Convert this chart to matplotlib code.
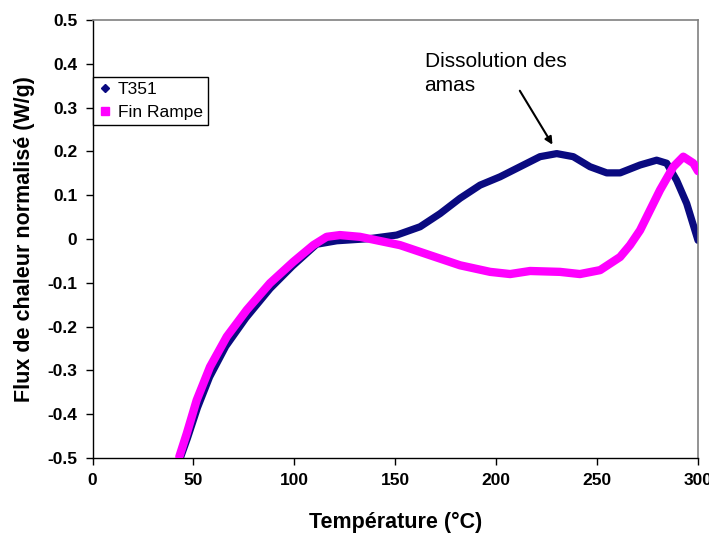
import matplotlib
matplotlib.use('Agg')
import matplotlib.pyplot as plt
from matplotlib.lines import Line2D

plt.rcParams['font.family'] = ['Liberation Sans', 'DejaVu Sans']

# T351 (navy)
t351_x = [43.5, 47, 52, 58, 66, 76, 88, 99, 111, 121, 137.5, 150.7, 162.3, 172.2,
          182.1, 192, 201.9, 211.8, 221.7, 230, 238.2, 246.5, 254.8, 261.4, 271.3,
          279.5, 284.5, 289.4, 294.4, 300]
t351_y = [-0.5, -0.455, -0.385, -0.315, -0.245, -0.18, -0.113, -0.062, -0.012, -0.004,
          0.001, 0.009, 0.028, 0.058, 0.093, 0.123, 0.142, 0.165, 0.188, 0.195, 0.188,
          0.165, 0.151, 0.151, 0.169, 0.180, 0.173, 0.134, 0.081, -0.003]

# Fin Rampe (magenta)
fin_x = [43, 46.7, 51.6, 58.2, 66.5, 76.4, 87.9, 99.5, 109.4, 116, 122.6, 132.5, 144,
         152.4, 167.2, 182.1, 197, 206.9, 216.8, 231.6, 241.5, 251.5, 261.4, 266.3,
         271.3, 281.2, 287.8, 292.7, 297.7, 300]
fin_y = [-0.497, -0.444, -0.368, -0.292, -0.223, -0.162, -0.101, -0.052, -0.014, 0.005,
         0.009, 0.005, -0.006, -0.014, -0.037, -0.060, -0.075, -0.080, -0.073, -0.075,
         -0.080, -0.071, -0.041, -0.014, 0.020, 0.112, 0.165, 0.188, 0.173, 0.155]

xticks = [0, 50, 100, 150, 200, 250, 300]
yticks = [-0.5, -0.4, -0.3, -0.2, -0.1, 0, 0.1, 0.2, 0.3, 0.4, 0.5]
ytick_labels = ['-0.5', '-0.4', '-0.3', '-0.2', '-0.1', '0', '0.1', '0.2', '0.3', '0.4', '0.5']

navy = '#0a0a80'
pink = '#ff00ff'

fig = plt.figure(figsize=(7.09, 5.34), dpi=100)
ax = fig.add_axes([0.1305, 0.1423, 0.854, 0.8202])

ax.plot(t351_x, t351_y, color=navy, lw=5.2, solid_capstyle='round', zorder=2)
ax.plot(fin_x, fin_y, color=pink, lw=6, solid_capstyle='round', zorder=3)

ax.set_xlim(0, 300)
ax.set_ylim(-0.5, 0.5)
ax.set_xticks(xticks)
ax.set_yticks(yticks)
ax.set_yticklabels(ytick_labels)
ax.tick_params(direction='out', length=5, width=1, labelsize=12.5, pad=6)
for lab in ax.get_xticklabels() + ax.get_yticklabels():
    lab.set_fontweight('bold')

for s in ['left', 'bottom']:
    ax.spines[s].set_color('black')
    ax.spines[s].set_linewidth(1)
for s in ['top', 'right']:
    ax.spines[s].set_color('#808080')
    ax.spines[s].set_linewidth(1.2)

ax.set_xlabel('Température (°C)', fontsize=15.5, fontweight='bold', labelpad=17)
ax.set_ylabel('Flux de chaleur normalisé (W/g)', fontsize=15.5, fontweight='bold', labelpad=9)

ax.annotate('', xy=(228.6, 0.21), xytext=(211, 0.344),
            arrowprops=dict(arrowstyle='-|>', color='black', lw=1.5, mutation_scale=11))
ax.text(164.5, 0.428, 'Dissolution des\namas', fontsize=15, ha='left', va='top',
        linespacing=1.35)

handles = [Line2D([], [], ls='none', marker='D', ms=4.5, color=navy),
           Line2D([], [], ls='none', marker='s', ms=6, color=pink)]
leg = ax.legend(handles, ['T351', 'Fin Rampe'], loc='upper left',
                bbox_to_anchor=(0.0, 0.8705), borderaxespad=0, fontsize=12.5,
                handlelength=0.86, handletextpad=0.3, labelspacing=0.46,
                borderpad=0.3, fancybox=False, framealpha=1)
leg.get_frame().set_edgecolor('black')
leg.get_frame().set_linewidth(1)

fig.savefig('out.png', dpi=100)
